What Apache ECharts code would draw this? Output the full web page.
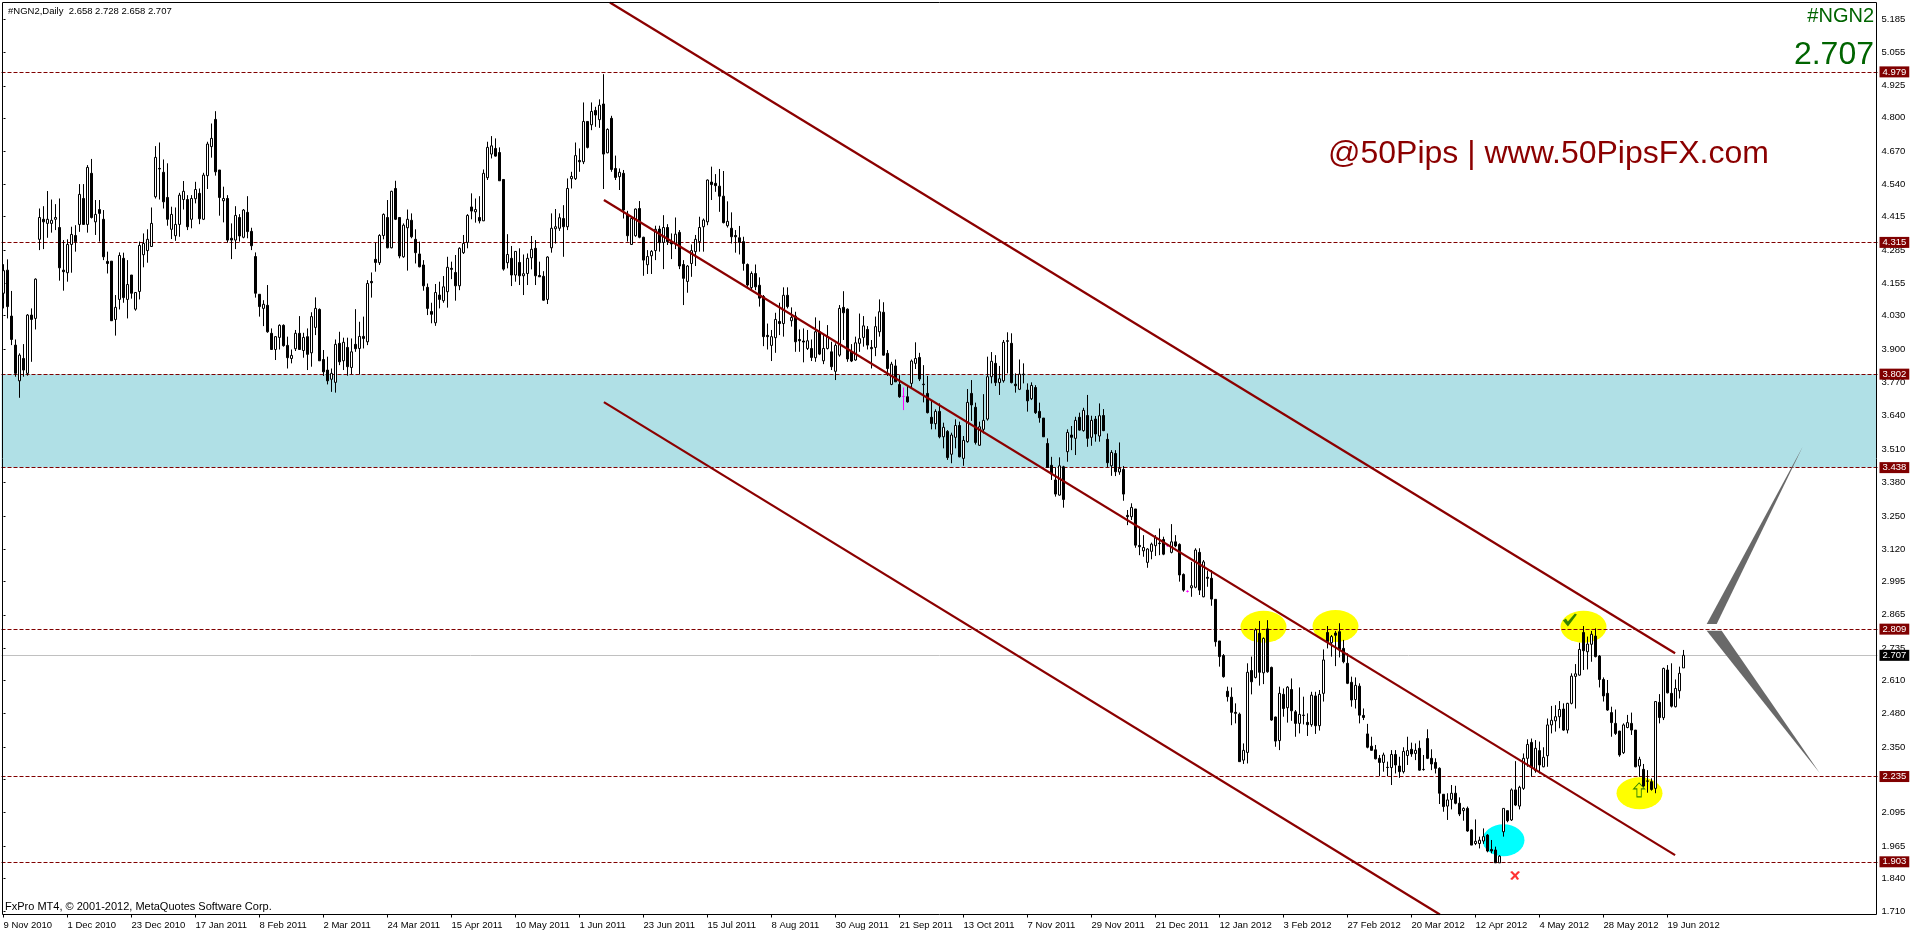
<!DOCTYPE html>
<html><head><meta charset="utf-8">
<style>html,body{margin:0;padding:0;background:#fff;overflow:hidden}#c{width:1914px;height:931px}</style>
<script src="https://cdn.jsdelivr.net/npm/echarts@6/dist/echarts.min.js"></script>
</head><body><div id="c"></div>
<script>
// Daily bars: [open, close, low, high]
const barsNovFeb = [
[4.117,4.205,4.058,4.230],[4.207,4.065,4.019,4.249],[4.028,3.937,3.915,4.126],[3.915,3.805,3.792,3.937],[3.776,3.876,3.710,3.883],[3.863,3.818,3.792,3.919],[3.805,4.032,3.796,4.036],[4.032,4.015,3.850,4.058],[4.019,4.172,3.976,4.175],[4.327,4.412,4.285,4.447],
[4.405,4.395,4.289,4.456],[4.389,4.405,4.333,4.515],[4.389,4.401,4.353,4.482],[4.405,4.412,4.363,4.464],[4.373,4.216,4.166,4.486],[4.207,4.201,4.127,4.324],[4.197,4.307,4.162,4.327],[4.307,4.346,4.197,4.376],[4.342,4.318,4.279,4.382],[4.385,4.502,4.356,4.542],
[4.486,4.385,4.385,4.542],[4.385,4.607,4.353,4.616],[4.584,4.412,4.408,4.640],[4.395,4.424,4.344,4.480],[4.443,4.428,4.318,4.480],[4.405,4.259,4.246,4.441],[4.241,4.233,4.194,4.279],[4.242,4.010,4.010,4.242],[4.015,4.062,3.952,4.110],[4.093,4.264,4.054,4.276],
[4.253,4.100,4.080,4.275],[4.093,4.151,4.019,4.246],[4.188,4.117,4.096,4.188],[4.055,4.120,4.049,4.120],[4.124,4.303,4.093,4.318],[4.267,4.311,4.218,4.350],[4.283,4.327,4.236,4.366],[4.299,4.389,4.298,4.451],[4.493,4.646,4.486,4.690],[4.603,4.601,4.482,4.704],
[4.588,4.473,4.447,4.638],[4.490,4.405,4.380,4.623],[4.366,4.424,4.328,4.454],[4.341,4.385,4.321,4.451],[4.385,4.499,4.337,4.508],[4.482,4.514,4.443,4.554],[4.482,4.376,4.363,4.499],[4.405,4.486,4.370,4.499],[4.485,4.521,4.467,4.551],[4.506,4.407,4.386,4.525],
[4.405,4.577,4.402,4.586],[4.575,4.698,4.523,4.707],[4.688,4.720,4.645,4.778],[4.794,4.590,4.575,4.826],[4.597,4.490,4.419,4.597],[4.477,4.486,4.393,4.532],[4.486,4.324,4.314,4.499],[4.331,4.324,4.250,4.389],[4.324,4.420,4.289,4.456],[4.412,4.340,4.318,4.425]
];
const barsFebMay = [
[4.335,4.441,4.331,4.445],[4.432,4.357,4.331,4.495],[4.358,4.302,4.285,4.372],[4.260,4.117,4.100,4.276],[4.113,4.065,4.026,4.113],[4.058,4.074,3.989,4.090],[4.070,3.967,3.963,4.149],[3.961,3.898,3.896,3.980],[3.898,3.948,3.857,3.950],[3.945,3.992,3.898,3.996],
[3.992,3.913,3.909,3.996],[3.914,3.866,3.824,3.948],[3.863,3.875,3.844,3.898],[3.901,3.961,3.892,3.974],[3.961,3.898,3.896,4.028],[3.894,3.945,3.866,3.963],[3.948,3.879,3.818,3.980],[3.885,4.026,3.831,4.043],[3.984,4.058,3.954,4.101],[4.054,3.854,3.854,4.058],
[3.859,3.811,3.795,3.896],[3.818,3.776,3.762,3.870],[3.782,3.805,3.733,3.824],[3.770,3.918,3.730,3.937],[3.922,3.850,3.837,3.967],[3.854,3.926,3.818,3.944],[3.906,3.831,3.796,3.944],[3.828,3.889,3.802,3.941],[3.918,3.901,3.889,4.055],[3.902,3.949,3.801,4.006],
[3.949,3.941,3.902,4.026],[3.928,4.155,3.915,4.168],[4.163,4.158,4.100,4.198],[4.249,4.237,4.201,4.314],[4.236,4.342,4.227,4.347],[4.342,4.424,4.327,4.428],[4.412,4.294,4.292,4.480],[4.294,4.514,4.292,4.516],[4.525,4.405,4.402,4.555],[4.412,4.262,4.253,4.412],
[4.259,4.382,4.255,4.389],[4.372,4.405,4.205,4.443],[4.401,4.337,4.331,4.428],[4.327,4.275,4.233,4.366],[4.270,4.220,4.218,4.318],[4.227,4.146,4.127,4.246],[4.140,4.058,4.032,4.155],[4.046,4.035,4.000,4.080],[4.002,4.120,3.990,4.153],[4.110,4.093,4.058,4.162],
[4.088,4.142,4.080,4.184],[4.123,4.218,4.061,4.259],[4.214,4.210,4.172,4.240],[4.198,4.146,4.088,4.266],[4.146,4.292,4.129,4.296],[4.275,4.311,4.270,4.344],[4.315,4.420,4.292,4.425],[4.453,4.437,4.405,4.506],[4.434,4.443,4.392,4.486],[4.412,4.399,4.389,4.495]
];
const barsMayAug = [
[4.399,4.584,4.398,4.599],[4.567,4.685,4.558,4.707],[4.659,4.691,4.642,4.729],[4.681,4.651,4.649,4.720],[4.665,4.555,4.555,4.685],[4.560,4.211,4.205,4.562],[4.236,4.268,4.214,4.347],[4.253,4.188,4.145,4.301],[4.188,4.280,4.162,4.281],[4.237,4.185,4.149,4.292],
[4.185,4.193,4.110,4.268],[4.194,4.253,4.149,4.272],[4.255,4.288,4.210,4.340],[4.292,4.185,4.149,4.324],[4.186,4.181,4.181,4.240],[4.183,4.090,4.088,4.203],[4.093,4.258,4.075,4.261],[4.294,4.370,4.275,4.428],[4.368,4.376,4.311,4.445],[4.370,4.411,4.360,4.428],
[4.408,4.376,4.259,4.460],[4.376,4.525,4.363,4.564],[4.563,4.572,4.525,4.590],[4.563,4.653,4.558,4.704],[4.634,4.629,4.590,4.681],[4.629,4.786,4.620,4.860],[4.786,4.685,4.681,4.787],[4.773,4.825,4.752,4.860],[4.829,4.811,4.765,4.843],[4.793,4.849,4.761,4.872],
[4.854,4.659,4.523,4.970],[4.664,4.755,4.662,4.759],[4.798,4.599,4.590,4.808],[4.603,4.568,4.558,4.653],[4.571,4.588,4.519,4.603],[4.584,4.441,4.408,4.597],[4.425,4.341,4.318,4.438],[4.307,4.408,4.305,4.415],[4.341,4.445,4.337,4.447],[4.447,4.335,4.331,4.476],
[4.335,4.246,4.185,4.337],[4.228,4.260,4.192,4.285],[4.263,4.280,4.192,4.285],[4.283,4.366,4.246,4.380],[4.367,4.314,4.279,4.380],[4.315,4.373,4.211,4.421],[4.373,4.318,4.305,4.386],[4.314,4.309,4.250,4.350],[4.309,4.347,4.289,4.412],[4.354,4.223,4.211,4.363],
[4.229,4.175,4.071,4.246],[4.163,4.223,4.119,4.227],[4.233,4.283,4.181,4.307],[4.279,4.327,4.223,4.344],[4.318,4.373,4.279,4.415],[4.376,4.402,4.279,4.408],[4.395,4.558,4.382,4.560],[4.550,4.540,4.480,4.610],[4.545,4.536,4.512,4.581],[4.534,4.495,4.434,4.601]
];
const barsAugNov = [
[4.495,4.392,4.389,4.593],[4.380,4.397,4.373,4.475],[4.370,4.337,4.311,4.432],[4.342,4.337,4.275,4.363],[4.333,4.315,4.268,4.379],[4.318,4.233,4.205,4.337],[4.229,4.149,4.142,4.233],[4.139,4.194,4.129,4.202],[4.194,4.142,4.129,4.229],[4.148,4.098,4.065,4.179],
[4.104,3.948,3.911,4.110],[3.953,3.948,3.898,3.999],[3.914,3.948,3.853,3.974],[3.944,4.015,3.885,4.041],[4.007,3.999,3.954,4.080],[3.999,4.109,3.948,4.140],[4.109,4.065,4.058,4.140],[4.010,4.023,3.987,4.062],[4.028,3.928,3.889,4.045],[3.937,3.932,3.889,3.976],
[3.931,3.927,3.848,3.980],[3.902,3.932,3.896,3.974],[3.902,3.867,3.853,3.937],[3.866,3.967,3.850,4.023],[3.967,3.880,3.876,4.010],[3.854,3.902,3.841,3.954],[3.902,3.948,3.898,3.993],[3.889,3.831,3.818,3.928],[3.813,3.914,3.779,3.922],[3.876,4.058,3.870,4.071],
[4.062,4.041,3.935,4.125],[4.055,3.861,3.850,4.058],[3.889,3.853,3.849,3.919],[3.857,3.924,3.854,3.948],[3.922,3.940,3.889,4.038],[3.945,3.990,3.909,4.028],[3.976,3.915,3.898,3.989],[3.906,3.901,3.824,3.935],[3.906,3.987,3.872,4.026],[3.967,4.045,3.948,4.093],
[4.043,3.876,3.874,4.082],[3.883,3.824,3.795,3.896],[3.762,3.841,3.759,3.850],[3.834,3.772,3.772,3.859],[3.762,3.714,3.710,3.798],[3.715,3.715,3.662,3.750],[3.714,3.694,3.691,3.756],[3.766,3.853,3.750,3.859],[3.844,3.863,3.822,3.926],[3.867,3.783,3.775,3.885],
[3.763,3.761,3.692,3.837],[3.727,3.652,3.649,3.795],[3.634,3.610,3.587,3.701],[3.609,3.657,3.587,3.665],[3.657,3.558,3.552,3.688],[3.558,3.595,3.513,3.613],[3.579,3.477,3.468,3.584],[3.490,3.565,3.455,3.574],[3.556,3.602,3.513,3.626],[3.602,3.480,3.478,3.617]
];
const barsNovJan = [
[3.474,3.544,3.445,3.561],[3.539,3.692,3.535,3.744],[3.727,3.682,3.620,3.779],[3.673,3.536,3.528,3.691],[3.525,3.597,3.523,3.617],[3.587,3.622,3.571,3.724],[3.627,3.792,3.621,3.870],[3.792,3.852,3.766,3.888],[3.844,3.769,3.756,3.876],[3.769,3.784,3.721,3.834],
[3.776,3.926,3.769,3.935],[3.932,3.930,3.805,3.965],[3.922,3.769,3.766,3.961],[3.763,3.757,3.730,3.805],[3.743,3.802,3.740,3.859],[3.802,3.800,3.766,3.844],[3.740,3.698,3.656,3.766],[3.706,3.758,3.701,3.770],[3.750,3.652,3.647,3.759],[3.657,3.632,3.613,3.691],
[3.631,3.558,3.558,3.631],[3.532,3.439,3.439,3.552],[3.447,3.413,3.390,3.480],[3.390,3.335,3.325,3.439],[3.331,3.445,3.329,3.478],[3.441,3.314,3.282,3.445],[3.500,3.575,3.461,3.587],[3.565,3.556,3.506,3.600],[3.552,3.622,3.487,3.636],[3.634,3.584,3.582,3.652],
[3.582,3.661,3.578,3.671],[3.641,3.552,3.519,3.721],[3.556,3.622,3.523,3.640],[3.627,3.569,3.539,3.639],[3.561,3.640,3.539,3.688],[3.641,3.582,3.580,3.666],[3.548,3.457,3.439,3.571],[3.445,3.497,3.406,3.506],[3.493,3.422,3.405,3.506],[3.421,3.435,3.410,3.536],
[3.431,3.335,3.309,3.444],[3.252,3.247,3.214,3.273],[3.247,3.283,3.234,3.299],[3.277,3.136,3.126,3.277],[3.135,3.130,3.097,3.208],[3.114,3.127,3.091,3.175],[3.069,3.121,3.048,3.124],[3.112,3.140,3.081,3.146],[3.134,3.165,3.094,3.175],[3.144,3.142,3.097,3.201],
[3.158,3.101,3.097,3.169],[3.134,3.134,3.130,3.138],[3.108,3.149,3.104,3.218],[3.149,3.133,3.128,3.175],[3.139,3.020,2.994,3.143],[3.022,2.961,2.955,3.026],[2.956,2.956,2.952,2.960],[2.970,2.978,2.935,3.071],[2.972,3.117,2.968,3.124],[3.108,2.961,2.942,3.124]
];
const barsJanApr = [
[2.935,3.071,2.933,3.078],[3.011,3.007,2.974,3.037],[3.007,2.926,2.900,3.039],[2.925,2.760,2.741,2.925],[2.763,2.702,2.663,2.763],[2.706,2.624,2.620,2.712],[2.567,2.546,2.527,2.585],[2.544,2.485,2.435,2.582],[2.485,2.481,2.442,2.520],[2.478,2.293,2.293,2.484],
[2.299,2.337,2.284,2.364],[2.329,2.641,2.286,2.676],[2.648,2.604,2.555,2.702],[2.621,2.806,2.617,2.812],[2.793,2.641,2.589,2.841],[2.639,2.773,2.595,2.777],[2.810,2.643,2.639,2.844],[2.660,2.455,2.452,2.663],[2.467,2.373,2.351,2.468],[2.375,2.559,2.338,2.585],
[2.555,2.500,2.468,2.578],[2.503,2.583,2.445,2.587],[2.574,2.491,2.452,2.617],[2.487,2.442,2.390,2.494],[2.442,2.477,2.403,2.582],[2.474,2.473,2.438,2.546],[2.446,2.437,2.393,2.481],[2.437,2.552,2.429,2.565],[2.549,2.433,2.401,2.565],[2.433,2.555,2.414,2.572],
[2.559,2.689,2.527,2.730],[2.796,2.760,2.734,2.821],[2.756,2.780,2.702,2.786],[2.794,2.785,2.665,2.802],[2.799,2.728,2.699,2.832],[2.734,2.682,2.676,2.767],[2.676,2.598,2.595,2.715],[2.602,2.533,2.507,2.624],[2.535,2.590,2.500,2.621],[2.587,2.474,2.442,2.598],
[2.473,2.465,2.455,2.500],[2.401,2.349,2.345,2.440],[2.353,2.337,2.336,2.390],[2.339,2.304,2.302,2.358],[2.306,2.290,2.237,2.319],[2.290,2.319,2.254,2.328],[2.271,2.270,2.237,2.293],[2.270,2.321,2.202,2.338],[2.321,2.280,2.247,2.338],[2.276,2.254,2.230,2.312],
[2.254,2.333,2.247,2.349],[2.317,2.336,2.280,2.390],[2.341,2.323,2.312,2.367],[2.325,2.337,2.299,2.364],[2.345,2.260,2.258,2.375],[2.263,2.262,2.258,2.319],[2.383,2.306,2.303,2.419],[2.306,2.284,2.260,2.341],[2.290,2.267,2.247,2.306],[2.267,2.170,2.128,2.271]
];
const barsAprJun = [
[2.166,2.118,2.098,2.166],[2.120,2.144,2.066,2.170],[2.146,2.170,2.107,2.202],[2.170,2.131,2.127,2.199],[2.131,2.089,2.081,2.154],[2.102,2.111,2.063,2.115],[2.111,2.023,2.020,2.118],[2.027,1.968,1.968,2.030],[1.974,1.983,1.968,2.068],[1.974,1.987,1.955,2.001],
[1.984,2.001,1.973,2.033],[2.007,1.945,1.940,2.011],[1.951,1.945,1.936,1.988],[1.949,1.899,1.899,1.962],[1.899,1.925,1.899,1.929],[2.020,2.111,2.001,2.111],[2.102,2.063,2.057,2.102],[2.066,2.183,2.062,2.189],[2.183,2.124,2.120,2.295],[2.120,2.193,2.107,2.199],
[2.189,2.306,2.183,2.325],[2.306,2.360,2.273,2.380],[2.368,2.271,2.234,2.383],[2.258,2.345,2.250,2.377],[2.336,2.280,2.247,2.371],[2.273,2.310,2.271,2.349],[2.316,2.436,2.273,2.461],[2.436,2.454,2.403,2.510],[2.452,2.468,2.410,2.513],[2.468,2.496,2.423,2.529],
[2.498,2.416,2.413,2.520],[2.416,2.520,2.403,2.522],[2.520,2.626,2.516,2.637],[2.625,2.635,2.500,2.673],[2.630,2.730,2.628,2.756],[2.796,2.725,2.650,2.821],[2.721,2.751,2.652,2.780],[2.750,2.789,2.682,2.802],[2.782,2.702,2.699,2.812],[2.704,2.613,2.582,2.708],
[2.613,2.549,2.527,2.621],[2.559,2.494,2.491,2.611],[2.484,2.445,2.390,2.507],[2.442,2.403,2.397,2.496],[2.412,2.319,2.312,2.413],[2.328,2.436,2.323,2.442],[2.426,2.445,2.423,2.475],[2.442,2.416,2.397,2.484],[2.416,2.273,2.271,2.416],[2.276,2.302,2.234,2.312],
[2.263,2.198,2.195,2.284],[2.218,2.217,2.172,2.260],[2.215,2.185,2.180,2.228],[2.189,2.527,2.170,2.529],[2.524,2.465,2.442,2.556],[2.464,2.656,2.455,2.659],[2.650,2.561,2.559,2.669],[2.559,2.509,2.504,2.676],[2.507,2.578,2.504,2.613],[2.569,2.637,2.539,2.663],
[2.658,2.707,2.658,2.728]
];
const magentaBars = [225, 291, 296];

const dateTicks = ['9 Nov 2010','1 Dec 2010','23 Dec 2010','17 Jan 2011','8 Feb 2011','2 Mar 2011','24 Mar 2011','15 Apr 2011','10 May 2011','1 Jun 2011','23 Jun 2011','15 Jul 2011','8 Aug 2011','30 Aug 2011','21 Sep 2011','13 Oct 2011','7 Nov 2011','29 Nov 2011','21 Dec 2011','12 Jan 2012','3 Feb 2012','27 Feb 2012','20 Mar 2012','12 Apr 2012','4 May 2012','28 May 2012','19 Jun 2012'];
const priceTicks = [5.185,5.055,4.925,4.800,4.670,4.540,4.415,4.285,4.155,4.030,3.900,3.770,3.640,3.510,3.380,3.250,3.120,2.995,2.865,2.735,2.610,2.480,2.350,2.225,2.095,1.965,1.840,1.710];
const levels = [4.979,4.315,3.802,3.438,2.809,2.235,1.903];
const lastPrice = 2.707;
const zoneTop = 3.802, zoneBottom = 3.438;

// x values are bar numbers, counted from the first bar
const channelUpper = [[151.6,5.249],[417.9,2.715]];
const channelMiddle = [[150.1,4.480],[417.9,1.929]];
const channelLower = [[150.1,3.693],[359.1,1.698]];
const yellowMarks = [[315,2.818],[333,2.821],[395,2.818],[409,2.170]];
const cyanMarks = [[375,1.987]];
const forecastUp = [425.8,2.829,428.3,2.829,449.8,3.519];
const forecastDown = [425.8,2.803,429.55,2.803,454.1,2.248];
const checkMark = [[391.6,2.845]];
const arrowMark = [[408.9,2.183]];
const crossMark = [[377.9,1.850]];

const SLOTS = 469;
const bars = [].concat(barsNovFeb, barsFebMay, barsMayAug, barsAugNov, barsNovJan, barsJanApr, barsAprJun);
const categories = [];
for (let i = 0; i < SLOTS; i++) categories.push(i % 16 === 0 && dateTicks[i / 16] ? dateTicks[i / 16] : '');
const hasTick = (i) => i % 16 === 0 && i / 16 < dateTicks.length;
const candleData = bars.map((b, i) => magentaBars.includes(i)
  ? { value: b, itemStyle: { color: '#FF00FF', color0: '#FF00FF', borderColor: '#FF00FF', borderColor0: '#FF00FF' } }
  : b);

const FACE = "'Liberation Sans',Arial,sans-serif";
const tag = (bg) => ({
  position: 'end', distance: 2, formatter: (p) => p.value.toFixed(3), color: '#fff', backgroundColor: bg,
  fontFamily: FACE, fontSize: 9.5, padding: [1, 3, 0, 3], lineHeight: 10
});
const trend = (data) => ({
  type: 'line', xAxisIndex: 1, yAxisIndex: 0, data, symbol: 'none', z: 6, silent: true,
  lineStyle: { color: '#8B0000', width: 2.2 }
});
const triangle = (pts) => ({
  type: 'custom', xAxisIndex: 1, yAxisIndex: 0, z: 6, silent: true, data: [pts],
  encode: { x: [0, 2, 4], y: [1, 3, 5] },
  renderItem: (params, api) => ({
    type: 'polygon',
    shape: { points: [0, 2, 4].map((k) => api.coord([api.value(k), api.value(k + 1)])) },
    style: { fill: '#696969' }
  })
});
const icon = (data, symbol, size, style) => ({
  type: 'scatter', xAxisIndex: 1, yAxisIndex: 0, data, symbol, symbolSize: size, z: 7, silent: true, itemStyle: style
});

const chart = echarts.init(document.getElementById('c'), null, { renderer: 'canvas' });
chart.setOption({
  animation: false,
  backgroundColor: '#fff',
  grid: { left: 1.5, top: 2.5, width: 1876, height: 912, containLabel: false },
  xAxis: [{
    type: 'category', data: categories, boundaryGap: true,
    axisLine: { show: false },
    axisTick: { show: true, interval: hasTick, alignWithLabel: true, length: 3, lineStyle: { color: '#000' } },
    axisLabel: { interval: hasTick, align: 'left', margin: 6, color: '#000', fontFamily: FACE, fontSize: 9.5 },
    splitLine: { show: false }
  }, {
    type: 'value', min: -0.5, max: 468.5, show: false, splitLine: { show: false }
  }],
  yAxis: [{
    type: 'value', position: 'right', offset: -1, min: 1.6978, max: 5.2492,
    axisLine: { show: false }, splitLine: { show: false },
    axisTick: { show: true, length: 2, customValues: priceTicks, lineStyle: { color: '#000' } },
    axisLabel: { customValues: priceTicks, formatter: (v) => v.toFixed(3), margin: 5, color: '#000', fontFamily: FACE, fontSize: 9.5 }
  }],
  graphic: [
    { type: 'rect', z: 100, silent: true, shape: { x: 2.5, y: 2.5, width: 1874, height: 912 }, style: { fill: 'none', stroke: '#000', lineWidth: 1 } },
    { type: 'text', z: 101, left: 8, top: 6, silent: true, style: { text: '#NGN2,Daily  2.658 2.728 2.658 2.707', fill: '#000', font: "9.5px " + FACE } },
    { type: 'text', z: 101, left: 5, top: 901, silent: true, style: { text: 'FxPro MT4, © 2001-2012, MetaQuotes Software Corp.', fill: '#000', font: "11px " + FACE } },
    { type: 'text', z: 101, right: 40, top: 6, silent: true, style: { text: '#NGN2', fill: '#006400', font: "20px " + FACE } },
    { type: 'text', z: 101, right: 40, top: 39, silent: true, style: { text: '2.707', fill: '#006400', font: "32px " + FACE } },
    { type: 'text', z: 101, left: 1328, top: 138, silent: true, style: { text: '@50Pips | www.50PipsFX.com', fill: '#8B0000', font: "32px " + FACE } }
  ],
  series: [
    {
      type: 'line', xAxisIndex: 1, yAxisIndex: 0, data: [], z: 1, silent: true, symbol: 'none',
      markArea: { silent: true, itemStyle: { color: '#B0E0E6' }, data: [[{ coord: [-0.5, zoneTop] }, { coord: [468.2, zoneBottom] }]] }
    },
    { type: 'scatter', xAxisIndex: 1, yAxisIndex: 0, data: yellowMarks, symbol: 'circle', symbolSize: [46, 32], z: 2, silent: true, itemStyle: { color: '#FFFF00', opacity: 1 } },
    { type: 'scatter', xAxisIndex: 1, yAxisIndex: 0, data: cyanMarks, symbol: 'circle', symbolSize: [42, 32], z: 2, silent: true, itemStyle: { color: '#00FFFF', opacity: 1 } },
    {
      type: 'line', xAxisIndex: 1, yAxisIndex: 0, data: [], z: 3, silent: true, symbol: 'none',
      markLine: {
        silent: true, symbol: 'none', animation: false, precision: 3,
        lineStyle: { color: '#800000', width: 1, type: [4, 2], opacity: 1 },
        label: tag('#800000'),
        data: levels.map((v) => ({ yAxis: v }))
      }
    },
    {
      type: 'line', xAxisIndex: 1, yAxisIndex: 0, data: [], z: 3, silent: true, symbol: 'none',
      markLine: {
        silent: true, symbol: 'none', animation: false, precision: 3,
        lineStyle: { color: '#C0C0C0', width: 1, type: 'solid', opacity: 1 },
        label: tag('#000'),
        data: [{ yAxis: lastPrice }]
      }
    },
    {
      type: 'candlestick', xAxisIndex: 0, yAxisIndex: 0, data: candleData, barWidth: 3, z: 5, silent: true,
      itemStyle: { color: '#fff', color0: '#000', borderColor: '#000', borderColor0: '#000', borderWidth: 1 }
    },
    trend(channelUpper), trend(channelMiddle), trend(channelLower),
    triangle(forecastUp), triangle(forecastDown),
    icon(checkMark, 'path://M0 7 L3 5 L5 8 L12 0 L14 1 L5 13 Z', [14, 13], { color: '#006400' }),
    icon(arrowMark, 'path://M5 0 L10 6 L7 6 L7 14 L3 14 L3 6 L0 6 Z', [11, 14], { color: 'rgba(0,0,0,0)', borderColor: '#006400', borderWidth: 1 }),
    icon(crossMark, 'path://M0 1 L2 0 L5 3 L8 0 L10 1 L6.5 4.5 L9 8 L7 9 L5 6 L2 9 L0 8 L3.5 4.5 Z', [10, 9], { color: '#FF0000' })
  ]
});
</script>
</body></html>
